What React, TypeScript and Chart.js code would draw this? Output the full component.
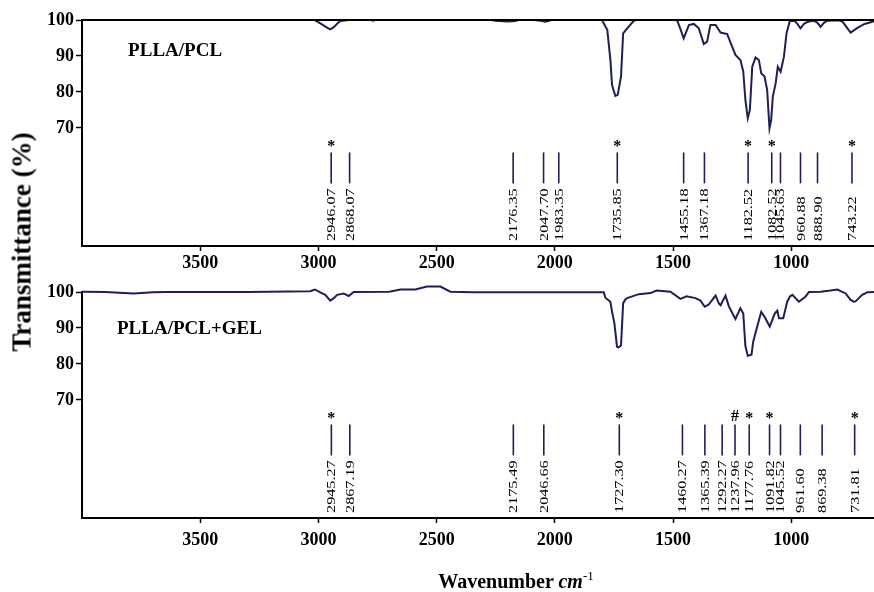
import React, { useEffect, useRef } from 'react';
import { Chart, registerables, Plugin } from 'chart.js';

Chart.register(...registerables);

const NAVY = '#1e1e5a';
const FONT = '"Liberation Serif", "Times New Roman", serif';

// x axis (wavenumber, cm-1) and y axis (transmittance, %) ticks
const xTicks = [3500, 3000, 2500, 2000, 1500, 1000];
const yTicks = [100, 90, 80, 70];

// PLLA/PCL spectrum
const pclWave = [
  4000, 3100, 3030, 3013, 2985, 2962, 2950, 2935, 2920, 2907, 2880, 2865, 2800, 2768, 2740,
  2300, 2252, 2200, 2167, 2140, 2061, 2040, 2018, 2000, 1830, 1800, 1778, 1765, 1758, 1744,
  1734, 1720, 1711, 1694, 1666, 1640, 1500, 1482, 1468, 1455, 1433, 1412, 1391, 1370, 1356,
  1342, 1320, 1299, 1271, 1250, 1236, 1215, 1203, 1194, 1184, 1175, 1165, 1151, 1137, 1127,
  1113, 1102, 1092, 1085, 1078, 1066, 1057, 1045, 1031, 1020, 1006, 985, 975, 961, 945,
  930, 905, 890, 876, 862, 847, 800, 784, 766, 749, 720, 690, 657, 650,
];
const pclTrans = [
  100.6, 100.6, 100.4, 99.9, 98.8, 97.8, 97.4, 98.0, 99.0, 99.7, 99.9, 100.1, 100.4, 99.8, 100.5,
  100.5, 99.8, 99.6, 99.7, 100.4, 99.8, 99.5, 99.9, 100.5, 100.5, 99.9, 97.2, 88.9, 81.9, 78.9,
  79.2, 84.3, 96.3, 97.7, 99.8, 100.3, 100.3, 99.8, 97.3, 94.9, 98.6, 98.9, 97.7, 93.3, 94.0,
  98.6, 98.6, 96.5, 96.1, 92.6, 90.3, 88.9, 85.7, 77.8, 72.7, 75.0, 87.0, 89.6, 88.9, 85.2,
  84.3, 80.6, 69.9, 72.2, 78.7, 82.4, 87.0, 85.6, 89.8, 96.3, 99.8, 99.7, 99.0, 97.7, 99.0,
  99.5, 99.8, 99.3, 98.1, 99.2, 99.8, 99.9, 99.6, 98.0, 96.5, 97.8, 98.9, 99.5, 99.7,
];
const pclPeaks = [
  2946.07, 2868.07, 2176.35, 2047.7, 1983.35, 1735.85, 1455.18, 1367.18, 1182.52, 1082.52,
  1045.63, 960.88, 888.9, 743.22,
];
const pclMarks = ['*', '', '', '', '', '*', '', '', '*', '*', '', '', '', '*'];

// PLLA/PCL+GEL spectrum
const gelWave = [
  4000, 3900, 3782, 3700, 3641, 3300, 3034, 3015, 2990, 2971, 2950, 2935, 2921, 2893, 2872,
  2851, 2700, 2653, 2590, 2541, 2484, 2442, 2345, 2000, 1793, 1786, 1765, 1758, 1748, 1737,
  1730, 1720, 1711, 1701, 1694, 1645, 1595, 1570, 1511, 1469, 1443, 1405, 1384, 1366, 1349,
  1320, 1306, 1299, 1278, 1264, 1236, 1215, 1203, 1194, 1184, 1168, 1161, 1144, 1127, 1113,
  1091, 1070, 1059, 1052, 1034, 1017, 1005, 995, 968, 940, 925, 876, 834, 805, 770,
  749, 735, 728, 700, 678, 650,
];
const gelTrans = [
  100.1, 100.0, 99.6, 99.9, 100.0, 100.0, 100.2, 100.7, 99.8, 99.2, 97.6, 98.3, 99.2, 99.6, 98.9,
  100.0, 100.1, 100.7, 100.7, 101.5, 101.5, 100.1, 99.9, 99.9, 99.9, 98.4, 97.3, 94.5, 91.3, 84.8,
  84.6, 85.2, 96.9, 98.0, 98.3, 99.4, 99.7, 100.4, 100.1, 98.1, 98.8, 98.3, 97.6, 95.9, 96.5,
  99.0, 96.8, 96.3, 99.0, 96.0, 92.5, 95.5, 94.0, 85.0, 82.3, 82.6, 86.2, 90.4, 94.5, 93.1,
  90.4, 94.0, 94.8, 92.7, 92.7, 97.3, 98.8, 99.2, 97.3, 98.7, 100.0, 100.1, 100.4, 100.7, 99.6,
  97.8, 97.3, 97.4, 99.2, 99.9, 100.0,
];
const gelPeaks = [
  2945.27, 2867.19, 2175.49, 2046.66, 1727.3, 1460.27, 1365.39, 1292.27, 1237.96, 1177.76,
  1091.82, 1045.52, 961.6, 869.38, 731.81,
];
const gelMarks = ['*', '', '', '', '*', '', '', '', '#', '*', '*', '', '', '', '*'];

interface PeakOpts {
  peaks: number[];
  marks: string[];
  name: string;
  nameAt: [number, number];
  topBorder: boolean;
}

const peakPlugin: Plugin<'line'> = {
  id: 'peakMarks',
  afterDatasetsDraw(chart, _args, opts: any) {
    const o = opts as PeakOpts;
    const { ctx, chartArea } = chart;
    const x = chart.scales.x;
    const y = chart.scales.y;
    ctx.save();

    if (o.topBorder) {
      ctx.strokeStyle = '#000';
      ctx.lineWidth = 2;
      ctx.beginPath();
      ctx.moveTo(chartArea.left - 1, chartArea.top);
      ctx.lineTo(chartArea.right, chartArea.top);
      ctx.stroke();
    }

    o.peaks.forEach((p, i) => {
      const px = x.getPixelForValue(p);
      ctx.strokeStyle = NAVY;
      ctx.lineWidth = 1.6;
      ctx.beginPath();
      ctx.moveTo(px, y.getPixelForValue(63.2));
      ctx.lineTo(px, y.getPixelForValue(54.6));
      ctx.stroke();

      // rotated wavenumber label, narrow and tall like the original
      ctx.save();
      ctx.translate(px, y.getPixelForValue(38.6));
      ctx.rotate(-Math.PI / 2);
      ctx.scale(1.2, 1);
      ctx.font = `13.5px ${FONT}`;
      ctx.fillStyle = '#000';
      ctx.textAlign = 'left';
      ctx.textBaseline = 'alphabetic';
      const label = p.toFixed(2);
      const m = ctx.measureText(label);
      ctx.fillText(label, 0, (m.actualBoundingBoxAscent - m.actualBoundingBoxDescent) / 2);
      ctx.restore();

      const mark = o.marks[i];
      if (mark) {
        ctx.font = `bold 16px ${FONT}`;
        ctx.fillStyle = '#000';
        ctx.textAlign = 'center';
        ctx.textBaseline = 'alphabetic';
        const mm = ctx.measureText(mark);
        const cy = y.getPixelForValue(65.6);
        ctx.fillText(mark, px, cy + (mm.actualBoundingBoxAscent - mm.actualBoundingBoxDescent) / 2);
      }
    });

    ctx.font = `bold 19px ${FONT}`;
    ctx.fillStyle = '#000';
    ctx.textAlign = 'left';
    ctx.textBaseline = 'middle';
    ctx.fillText(o.name, x.getPixelForValue(o.nameAt[0]), y.getPixelForValue(o.nameAt[1]));
    ctx.restore();
  },
};

interface PanelProps {
  wave: number[];
  trans: number[];
  peaks: number[];
  marks: string[];
  name: string;
  nameAt: [number, number];
  topBorder: boolean;
  height: number;
  top: number;
  tickPad: number;
}

const Panel: React.FC<PanelProps> = (props) => {
  const canvasRef = useRef<HTMLCanvasElement>(null);

  useEffect(() => {
    if (!canvasRef.current) return;
    const data = props.wave.map((w, i) => ({ x: w, y: props.trans[i] }));
    const axisHeight = props.height - 246;

    const chart = new Chart(canvasRef.current, {
      type: 'line',
      data: {
        datasets: [
          {
            data,
            borderColor: NAVY,
            borderWidth: 2,
            pointRadius: 0,
            tension: 0,
            clip: props.topBorder ? 0 : false,
          } as any,
        ],
      },
      options: {
        responsive: false,
        animation: false,
        layout: { padding: { top: 20, left: 0, right: 0, bottom: 0 } },
        font: { family: FONT },
        plugins: {
          legend: { display: false },
          tooltip: { enabled: false },
          peakMarks: {
            peaks: props.peaks,
            marks: props.marks,
            name: props.name,
            nameAt: props.nameAt,
            topBorder: props.topBorder,
          },
        } as any,
        scales: {
          x: {
            type: 'linear',
            reverse: true,
            min: 650,
            max: 4000,
            afterBuildTicks: (s) => {
              s.ticks = xTicks.map((v) => ({ value: v }));
            },
            afterFit: (s) => {
              s.height = axisHeight;
            },
            grid: { drawOnChartArea: false, tickLength: 5, tickColor: '#000', tickWidth: 1.5 },
            border: { color: '#000', width: 2 },
            ticks: {
              color: '#000',
              padding: props.tickPad,
              maxRotation: 0,
              font: { family: FONT, size: 18, weight: 'bold' },
              callback: (v) => String(v),
            },
          },
          y: {
            min: 37.2,
            max: 100,
            afterBuildTicks: (s) => {
              s.ticks = yTicks.map((v) => ({ value: v }));
            },
            afterFit: (s) => {
              s.width = 82;
            },
            grid: { drawOnChartArea: false, tickLength: 6, tickColor: '#000', tickWidth: 1.5 },
            border: { color: '#000', width: 2 },
            ticks: {
              color: '#000',
              padding: 2,
              font: { family: FONT, size: 18, weight: 'bold' },
              callback: (v) => String(v),
            },
          },
        },
      },
      plugins: [peakPlugin],
    });

    return () => {
      chart.destroy();
    };
  }, []);

  return (
    <canvas
      ref={canvasRef}
      width={874}
      height={props.height}
      style={{ position: 'absolute', left: 0, top: props.top }}
    />
  );
};

const App: React.FC = () => {
  return (
    <div
      style={{
        position: 'absolute',
        left: 0,
        top: 0,
        width: 874,
        height: 592,
        background: '#fff',
        overflow: 'hidden',
        fontFamily: FONT,
      }}
    >
      <Panel
        wave={pclWave}
        trans={pclTrans}
        peaks={pclPeaks}
        marks={pclMarks}
        name="PLLA/PCL"
        nameAt={[3805, 91.4]}
        topBorder={true}
        height={280}
        top={0}
        tickPad={2}
      />
      <Panel
        wave={gelWave}
        trans={gelTrans}
        peaks={gelPeaks}
        marks={gelMarks}
        name="PLLA/PCL+GEL"
        nameAt={[3852, 89.6]}
        topBorder={false}
        height={320}
        top={272}
        tickPad={7}
      />
      <div
        style={{
          position: 'absolute',
          left: 22,
          top: 242,
          transform: 'translate(-50%, -50%) rotate(-90deg)',
          fontWeight: 'bold',
          fontSize: 27,
          whiteSpace: 'nowrap',
          lineHeight: 1,
        }}
      >
        Transmittance (%)
      </div>
      <div
        style={{
          position: 'absolute',
          left: 516,
          top: 571,
          transform: 'translateX(-50%)',
          fontWeight: 'bold',
          fontSize: 20,
          whiteSpace: 'nowrap',
          lineHeight: 1,
        }}
      >
        Wavenumber <i>cm</i>
        <sup style={{ fontSize: 13, fontWeight: 'normal', verticalAlign: 'top', position: 'relative', top: -2 }}>-1</sup>
      </div>
    </div>
  );
};

export default App;
